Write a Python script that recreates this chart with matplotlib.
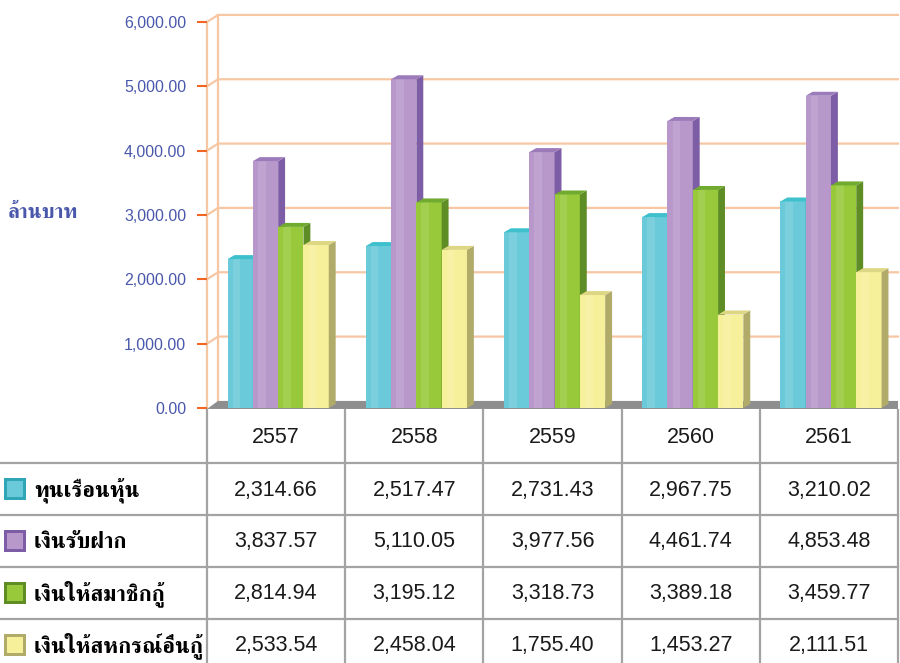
import numpy as np
import matplotlib
matplotlib.use("Agg")
import matplotlib.pyplot as plt
from matplotlib.patches import Polygon, Rectangle

# --- data --- #
years = ["2557", "2558", "2559", "2560", "2561"]
series = ["ทุนเรือนหุ้น", "เงินรับฝาก", "เงินให้สมาชิกกู้", "เงินให้สหกรณ์อื่นกู้"]
shares = [2314.66, 2517.47, 2731.43, 2967.75, 3210.02]
deposits = [3837.57, 5110.05, 3977.56, 4461.74, 4853.48]
member_loans = [2814.94, 3195.12, 3318.73, 3389.18, 3459.77]
coop_loans = [2533.54, 2458.04, 1755.40, 1453.27, 2111.51]
values = [shares, deposits, member_loans, coop_loans]
yticks = [0, 1000, 2000, 3000, 4000, 5000, 6000]

# front / side / top colours for each series
front = ["#6BCAD9", "#B897CA", "#97C93A", "#F7F09A"]
side = ["#2FA6B6", "#7D5DA6", "#5E8D25", "#B1AB6A"]
top = ["#3EC0CD", "#9C7BBB", "#70AA2E", "#DDD784"]

thai = ["FreeSerif", "DejaVu Sans"]
num = ["Liberation Sans", "DejaVu Sans"]
blue = "#4A58AC"

fig = plt.figure(figsize=(9, 6.63), dpi=100)

# --- bar chart --- #
ax = fig.add_axes([207 / 900, 255 / 663, 691 / 900, 386 / 663])
ax.set_xlim(-0.5, 4.5)
ax.set_ylim(0, 6000)

wall_dx, wall_dy = 0.08, 110   # back wall offset (data units)
bar_dx, bar_dy = 0.05, 62      # bar depth offset
w = 0.183
x = np.arange(len(years))

# back wall grid (the 0 line is hidden by the floor)
for v in yticks[1:]:
    ax.plot([-0.5, -0.5 + wall_dx, 4.5], [v, v + wall_dy, v + wall_dy],
            color="#F7C7A4", lw=1.6, clip_on=False, zorder=1)
ax.plot([-0.5 + wall_dx] * 2, [wall_dy, 6000 + wall_dy], color="#F7C7A4", lw=1.6,
        clip_on=False, zorder=1)
ax.plot([-0.5, -0.5], [0, 6000], color="#F7C7A4", lw=1.6, clip_on=False, zorder=1)
# floor
ax.add_patch(Polygon([(-0.5, -15), (-0.5 + wall_dx, wall_dy), (4.5, wall_dy), (4.5, -15)],
                     closed=True, fc="#8E8E8E", ec="none", clip_on=False, zorder=1.5))

for i, vals in enumerate(values):
    xs = x + 0.015 + (i - 1.5) * w
    z = 3 + i
    ax.bar(xs, vals, width=w, color=front[i], edgecolor="none", zorder=z)
    # soft highlight stripe
    ax.bar(xs - 0.15 * w, vals, width=0.3 * w, color="white", alpha=0.12,
           edgecolor="none", zorder=z)
    for xc, v in zip(xs, vals):
        r = xc + w / 2
        l = xc - w / 2
        ax.add_patch(Polygon([(r, 0), (r, v), (r + bar_dx, v + bar_dy), (r + bar_dx, bar_dy)],
                             closed=True, fc=side[i], ec="none", zorder=z))
        ax.add_patch(Polygon([(l, v), (r, v), (r + bar_dx, v + bar_dy), (l + bar_dx, v + bar_dy)],
                             closed=True, fc=top[i], ec="none", zorder=z))

for s in ["top", "right", "bottom", "left"]:
    ax.spines[s].set_visible(False)
ax.set_xticks([])
ax.set_yticks(yticks)
ax.set_yticklabels([f"{v:,.2f}" for v in yticks], fontfamily=num, fontsize=11.5, color=blue)
ax.tick_params(axis="y", color="#F26522", length=7, width=1.5, pad=8)
ax.set_ylabel("ล้านบาท", rotation=0, fontfamily=thai, fontweight="bold",
              fontsize=15, color=blue, va="center", ha="center")
ax.yaxis.set_label_coords(-0.238, 0.505)

# --- data table --- #
tax = fig.add_axes([0, 0, 1, 253 / 663])
tax.set_xlim(0, 900)
tax.set_ylim(253, 0)
tax.axis("off")

col_edges = [207 + k * 138.2 for k in range(len(years) + 1)]
row_h = 52
head_h = 53
grid = "#A3A3A3"

for xe in col_edges:
    tax.plot([xe, xe], [0, 253], color=grid, lw=1.6, clip_on=False)
for r in range(len(series)):
    yline = head_h + r * row_h
    tax.plot([0, col_edges[-1]], [yline, yline], color=grid, lw=1.6)

for k, yr in enumerate(years):
    cx = (col_edges[k] + col_edges[k + 1]) / 2
    tax.text(cx, head_h / 2 + 1, yr, ha="center", va="center", fontfamily=num,
             fontsize=15.5, color="#1A1A1A")

for r, name in enumerate(series):
    cy = head_h + r * row_h + row_h / 2
    # legend key
    tax.add_patch(Rectangle((4, cy - 11), 22, 22, fc=side[r], ec="none"))
    tax.add_patch(Rectangle((7, cy - 8), 16, 16, fc=front[r], ec="none"))
    tax.text(34, cy + 1, name, ha="left", va="center", fontfamily=thai,
             fontweight="bold", fontsize=16, color="black")
    for k, v in enumerate(values[r]):
        cx = (col_edges[k] + col_edges[k + 1]) / 2
        tax.text(cx, cy + 1, f"{v:,.2f}", ha="center", va="center", fontfamily=num,
                 fontsize=15.5, color="#1A1A1A")

fig.savefig("out.png", dpi=100)
